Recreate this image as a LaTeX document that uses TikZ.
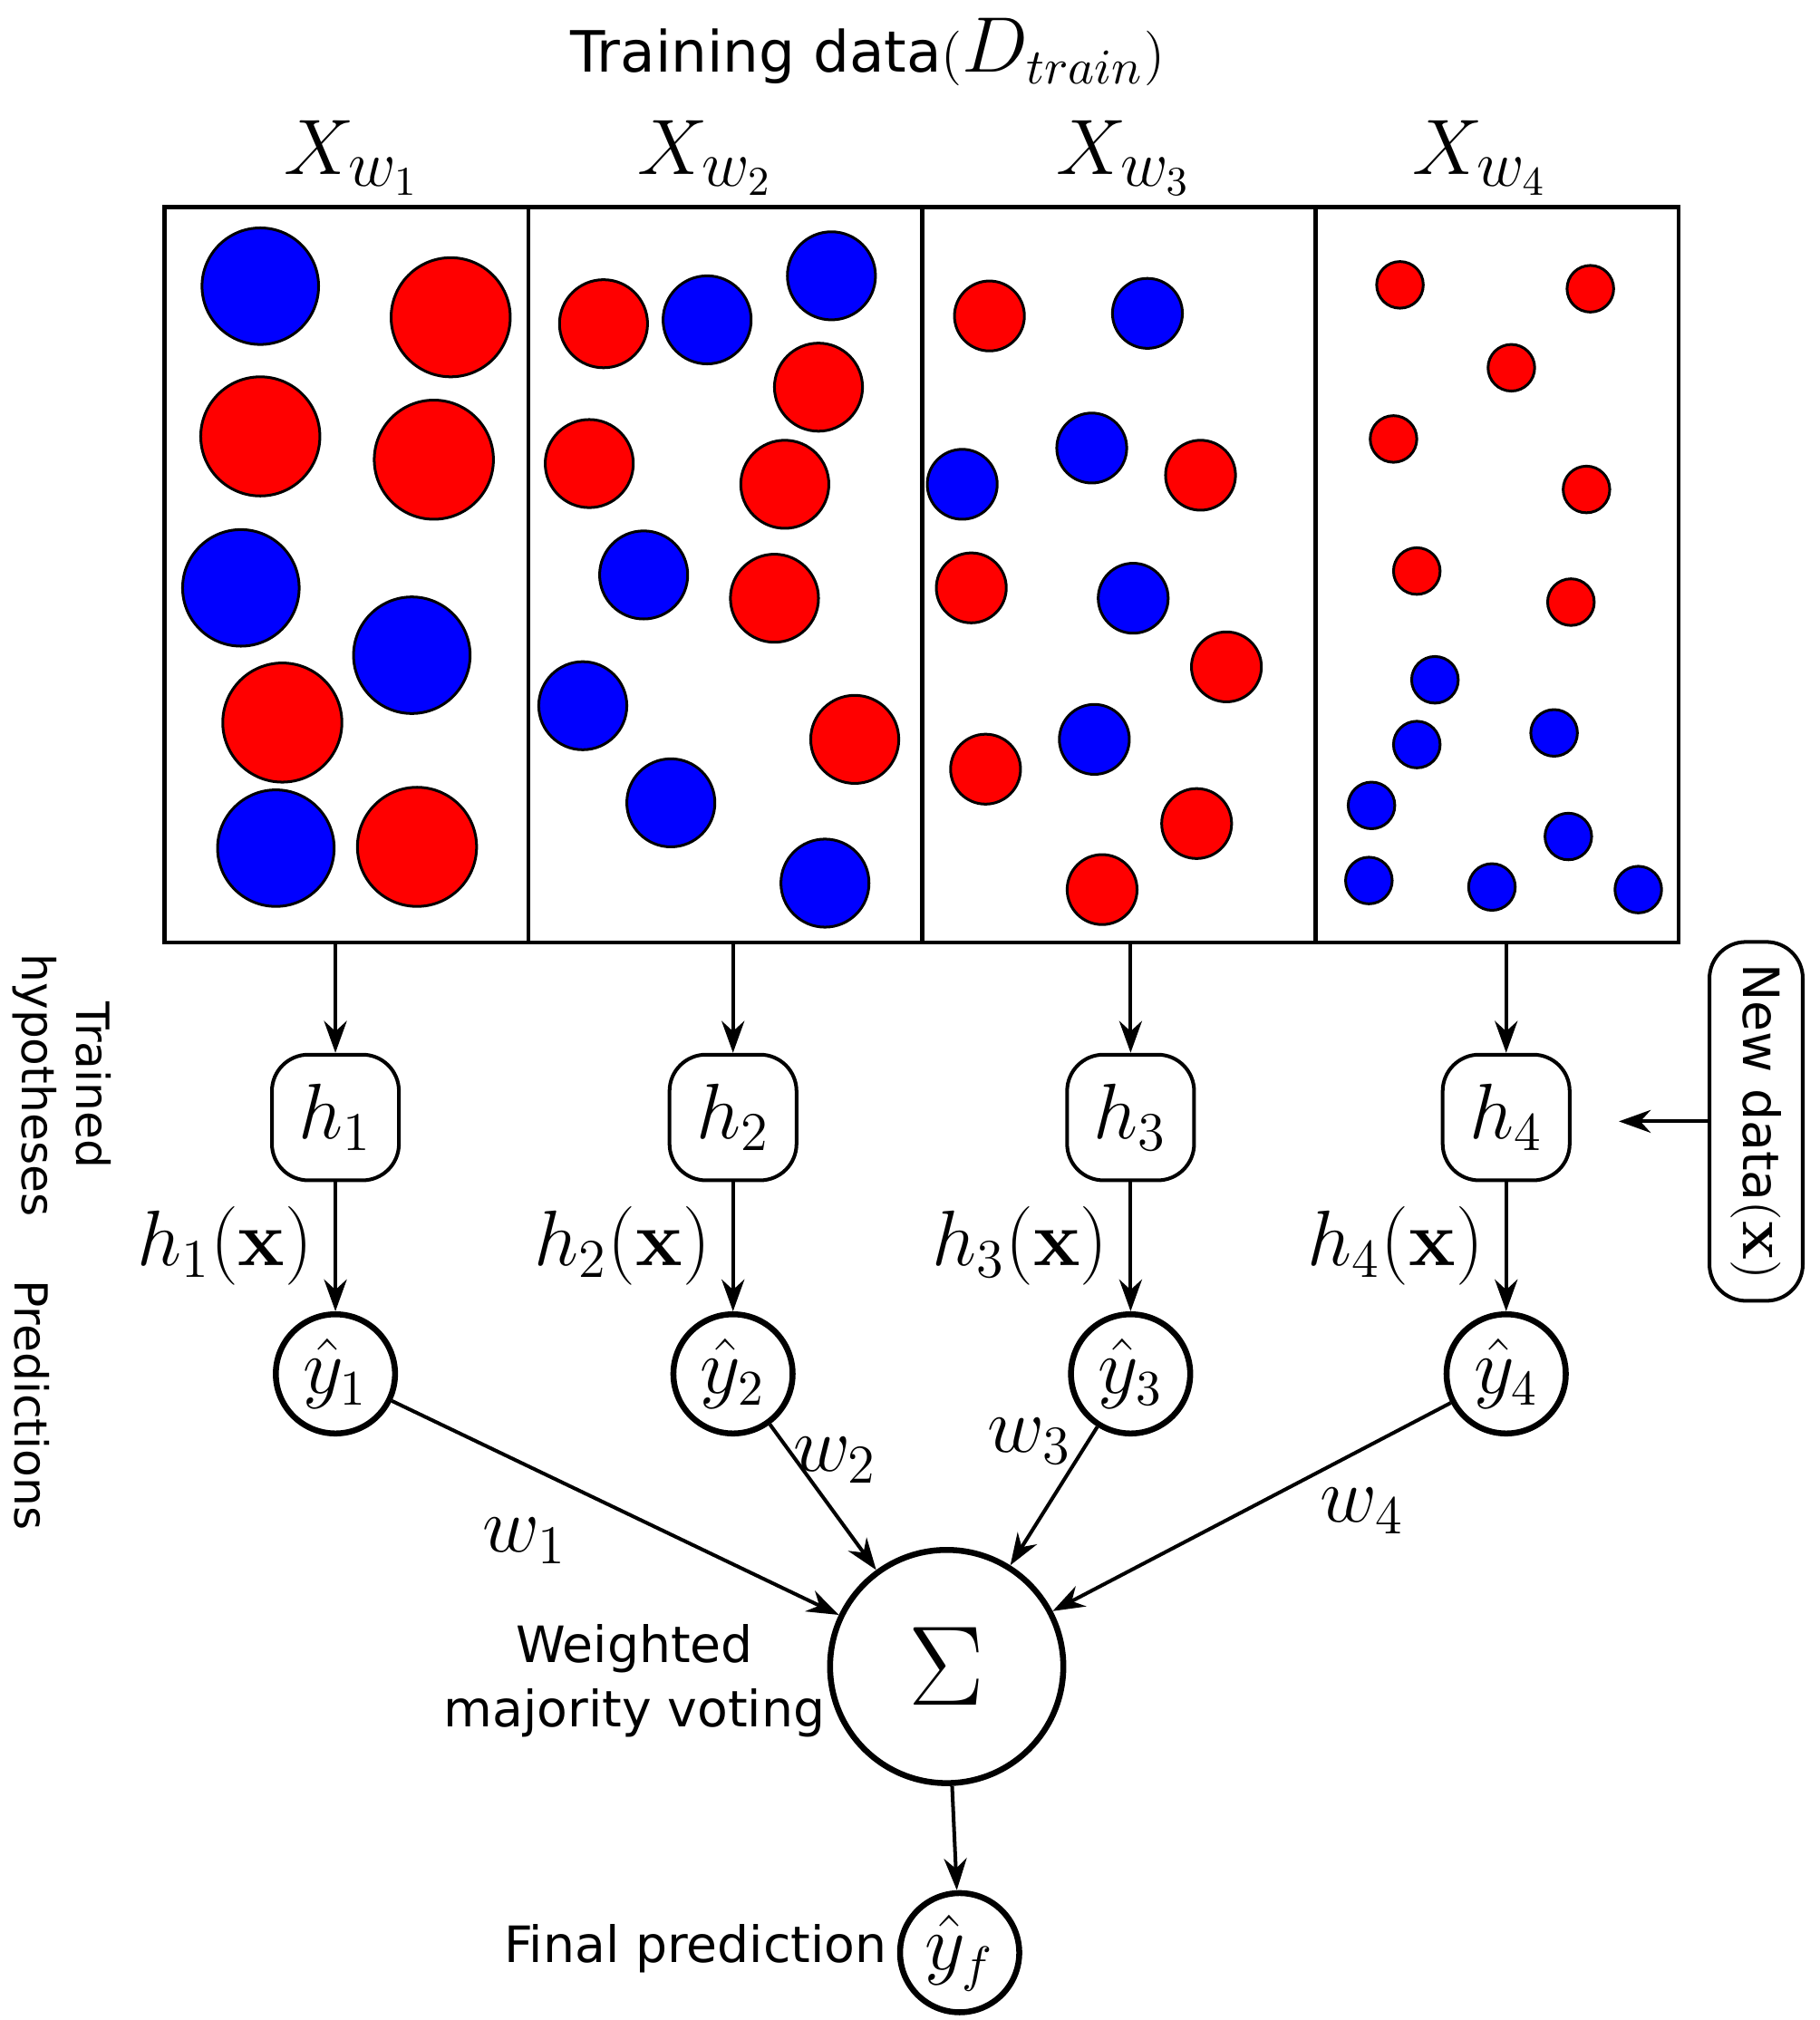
\documentclass[tikz,border=0pt]{standalone}
\usepackage[no-math]{fontspec}
\setmainfont{DejaVu Sans}
\usetikzlibrary{arrows.meta}
\begin{document}
\begin{tikzpicture}[x=0.01cm,y=-0.01cm,
  red/.style={fill={rgb,255:red,255;green,0;blue,0},draw=black,line width=0.6pt},
  blue/.style={fill={rgb,255:red,0;green,0;blue,255},draw=black,line width=0.6pt},
  hyp/.style={draw,rounded corners=8pt,minimum width=0.98cm,minimum height=0.97cm,line width=0.8pt,font=\fontsize{17}{20}\selectfont},
  pred/.style={draw,circle,minimum size=0.92cm,inner sep=0pt,line width=1.3pt,font=\fontsize{16}{19}\selectfont},
  arr/.style={-{Stealth[length=7pt,width=5pt]},line width=0.8pt},
  lab/.style={font=\fontsize{17}{20}\selectfont},
  txt/.style={font=\fontsize{11}{14}\selectfont}]
\useasboundingbox (0,0) rectangle (1405,1560);
\node[font=\fontsize{12.5}{15}\selectfont] (title) at (670,40) {Training data$\big(\mbox{\fontsize{16}{19}\selectfont$D_{train}$}\big)$};
\foreach \x/\i in {272/1,545/2,868/3,1143/4}
  \node[lab,font=\fontsize{19}{22}\selectfont] (X\i) at (\x,122) {$X_{w_\i}$};
\draw[line width=0.9pt] (127,160) rectangle (1296,728);
\foreach \x in {408,712,1016} \draw[line width=0.9pt] (\x,160) -- (\x,728);
% panel 1
\foreach \x/\y in {201/221,186/454,318/506,213/655} \draw[blue] (\x,\y) circle (45);
\foreach \x/\y in {348/245,201/337,335/355,218/558,322/654} \draw[red] (\x,\y) circle (46);
% panel 2
\foreach \x/\y in {546/247,642/213,497/444,450/545,518/620,637/682} \draw[blue] (\x,\y) circle (34);
\foreach \x/\y in {466/250,632/299,455/358,606/374,598/462,660/571} \draw[red] (\x,\y) circle (34);
% panel 3
\foreach \x/\y in {886/242,843/346,743/374,875/462,845/571} \draw[blue] (\x,\y) circle (27);
\foreach \x/\y in {764/244,927/367,750/454,947/515,761/594,924/636,851/687} \draw[red] (\x,\y) circle (27);
% panel 4
\foreach \x/\y in {1081/220,1228/223,1167/284,1076/339,1225/378,1094/441,1213/465} \draw[red] (\x,\y) circle (18);
\foreach \x/\y in {1108/525,1094/575,1200/566,1059/622,1211/646,1057/680,1152/685,1265/687} \draw[blue] (\x,\y) circle (18);
% hypotheses
\foreach \x/\i in {259/1,566/2,873/3,1163/4}{
  \coordinate (t\i) at (\x,728);
  \node[hyp] (h\i) at (\x,863) {$h_\i$};
  \node[pred] (y\i) at (\x,1061) {$\hat{y}_\i$};
  \draw[arr] (t\i) -- (h\i);
  \draw[arr] (h\i) -- (y\i);
  \node[lab,anchor=east] (hx\i) at (\x-5,962) {$h_\i(\mathbf{x})$};
}
\node[draw,circle,minimum size=1.8cm,inner sep=0pt,line width=1.3pt,font=\fontsize{44}{46}\selectfont] (S) at (731,1287) {$\Sigma$};
\node[pred] (yf) at (741,1508) {$\hat{y}_f$};
\foreach \i in {1,2,3,4} \draw[arr] (y\i) -- (S);
\draw[arr] (S) -- (yf);
\node[lab] (w1) at (405,1190) {$w_1$};
\node[lab] (w2) at (645,1128) {$w_2$};
\node[lab] (w3) at (795,1113) {$w_3$};
\node[lab] (w4) at (1052,1167) {$w_4$};
% new data
\node[draw,rounded corners=8pt,line width=0.8pt,minimum width=2.77cm,minimum height=0.72cm,inner sep=1pt,rotate=-90,font=\fontsize{11}{13}\selectfont] (nd) at (1356,866) {New data$\big(\mbox{\fontsize{15}{18}\selectfont$\mathbf{x}$}\big)$};
\coordinate (ndt) at (1250,866);
\draw[arr] (nd.south) -- (ndt);
\node[rotate=-90,align=center,font=\fontsize{10}{12}\selectfont] (th) at (48,838) {Trained\\hypotheses};
\node[rotate=-90,font=\fontsize{10}{12}\selectfont] (pr) at (25,1085) {Predictions};
\node[txt,align=center] (wm) at (490,1298) {Weighted\\majority voting};
\node[txt] (fp) at (537,1505) {Final prediction};
\end{tikzpicture}
\end{document}
